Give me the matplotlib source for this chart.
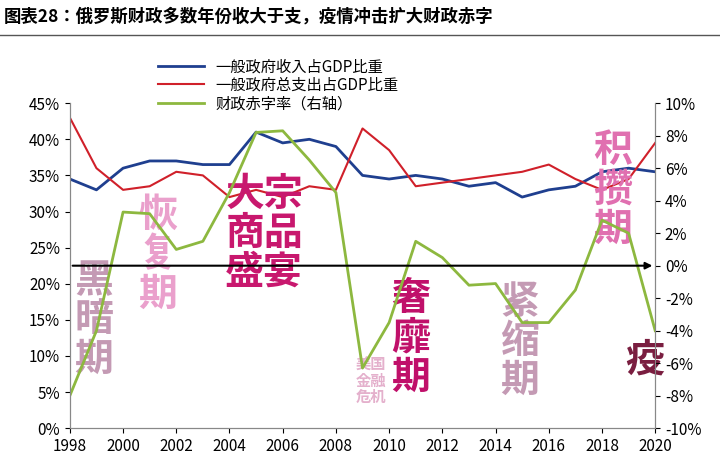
import matplotlib
matplotlib.use("Agg")
import matplotlib.pyplot as plt
from matplotlib.ticker import FuncFormatter

plt.rcParams["font.family"] = ["Noto Sans CJK JP", "DejaVu Sans"]
plt.rcParams["axes.unicode_minus"] = False

years = list(range(1998, 2021))
revenue = [34.5, 33, 36, 37, 37, 36.5, 36.5, 41, 39.5, 40, 39, 35, 34.5, 35, 34.5, 33.5, 34, 32, 33, 33.5, 35.5, 36, 35.5]
expend = [43, 36, 33, 33.5, 35.5, 35, 32, 33, 32, 33.5, 33, 41.5, 38.5, 33.5, 34, 34.5, 35, 35.5, 36.5, 34.5, 33, 34.5, 39.5]
deficit = [-8, -4, 3.3, 3.2, 1, 1.5, 4.5, 8.2, 8.3, 6.5, 4.5, -6.3, -3.5, 1.5, 0.5, -1.2, -1.1, -3.5, -3.5, -1.5, 2.8, 2, -4]

fig = plt.figure(figsize=(7.2, 4.69), dpi=100)
fig.text(0.005, 0.965, "图表28：俄罗斯财政多数年份收大于支，疫情冲击扩大财政赤字",
         fontsize=12.5, fontweight="bold", va="center", ha="left")
fig.add_artist(plt.Line2D([0, 1], [0.925, 0.925], color="#555555", lw=1))

ax = fig.add_axes([0.097, 0.087, 0.813, 0.693])
ax2 = ax.twinx()
l1, = ax.plot(years, revenue, color="#1f3f8f", lw=2, label="一般政府收入占GDP比重")
l2, = ax.plot(years, expend, color="#d0202a", lw=1.5, label="一般政府总支出占GDP比重")
l3, = ax2.plot(years, deficit, color="#8db83f", lw=2, label="财政赤字率（右轴）")
ax.set_xlim(1998, 2020)
ax.set_ylim(0, 45)
ax2.set_ylim(-10, 10)
ax.set_xticks(range(1998, 2021, 2))
ax.set_yticks(range(0, 46, 5))
ax2.set_yticks(range(-10, 11, 2))
ax.yaxis.set_major_formatter(FuncFormatter(lambda v, p: f"{v:.0f}%"))
ax2.yaxis.set_major_formatter(FuncFormatter(lambda v, p: f"{v:.0f}%"))
for a in (ax, ax2):
    a.tick_params(labelsize=11, direction="out")
    for s in a.spines.values():
        s.set_color("#888888")
ax.spines["top"].set_visible(False)
ax2.spines["top"].set_visible(False)
ax2.annotate("", xy=(2020, 0), xytext=(1998, 0),
             arrowprops=dict(arrowstyle="-|>", color="black", lw=1.5))
fig.legend(handles=[l1, l2, l3], loc="upper left", bbox_to_anchor=(0.2, 0.905),
           frameon=False, fontsize=11, handlelength=3, labelspacing=0.1)

txt = dict(fontweight="bold", ha="center", va="center", linespacing=1.0)
ax.text(1998.9, 15, "黑\n暗\n期", fontsize=28, color="#c49ab4", **txt)
ax.text(2001.3, 24, "恢\n复\n期", fontsize=28, color="#eaa0cc", **txt)
ax.text(2005.3, 27, "大宗\n商品\n盛宴", fontsize=28, color="#c8186e", **txt)
ax.text(2009.3, 6.5, "美国\n金融\n危机", fontsize=11, color="#e4b0cc", **txt)
ax.text(2010.8, 12.5, "奢\n靡\n期", fontsize=28, color="#c0106a", **txt)
ax.text(2014.9, 12, "紧\n缩\n期", fontsize=28, color="#c49ab4", **txt)
ax.text(2018.4, 33, "积\n攒\n期", fontsize=28, color="#e070b0", **txt)
ax.text(2019.6, 9.5, "疫", fontsize=28, color="#7a1e40", **txt)

fig.savefig("out.png", dpi=100)
